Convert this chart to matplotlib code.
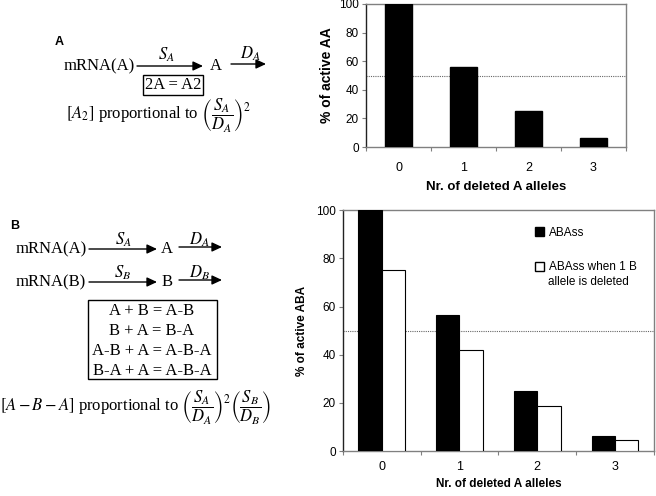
import numpy as np
import matplotlib
matplotlib.use('Agg')
import matplotlib.pyplot as plt
from matplotlib.patches import Rectangle, Patch

plt.rcParams['font.family'] = ['Liberation Sans', 'DejaVu Sans']
plt.rcParams['mathtext.fontset'] = 'stix'

# data
alleles = [0, 1, 2, 3]
aa_active = [100, 56, 25.5, 6.5]
aba_active = [100, 56.5, 25, 6.2]
aba_b_deleted = [75.3, 42.1, 18.6, 4.7]
threshold = 50

W, H = 656, 496
fig = plt.figure(figsize=(W / 100, H / 100), dpi=100)

# overlay in pixel coordinates for the reaction schemes
ov = fig.add_axes([0, 0, 1, 1])
ov.set_xlim(0, W)
ov.set_ylim(H, 0)
ov.axis('off')

serif = dict(family='Liberation Serif', fontsize=12, color='black')
arrow = dict(arrowstyle='-|>,head_length=0.6,head_width=0.28', color='black',
             lw=1, mutation_scale=10, shrinkA=0, shrinkB=0)


def arr(x0, x1, y):
    ov.annotate('', xy=(x1, y), xytext=(x0, y), arrowprops=arrow)


# panel A scheme
ov.text(55, 42, 'A', fontsize=9, fontweight='bold', va='center')
ov.text(64, 66, 'mRNA(A)', ha='left', va='center', **serif)
arr(137, 203, 66)
ov.text(166, 55, r'$S_A$', ha='center', va='center', **serif)
ov.text(216, 66, 'A', ha='center', va='center', **serif)
arr(231, 266, 64)
ov.text(250, 54, r'$D_A$', ha='center', va='center', **serif)
ov.text(173, 85, '2A = A2', ha='center', va='center', **serif,
        bbox=dict(boxstyle='square,pad=0.12', fc='white', ec='black', lw=1))
ov.text(66, 116, r'$\left[A_2\right]$ proportional to $\left(\dfrac{S_A}{D_A}\right)^2$',
        ha='left', va='center', **serif)

# panel B scheme
ov.text(10, 226, 'B', fontsize=9, fontweight='bold', va='center')
for y, src, s, d, prod in [(249, 'mRNA(A)', r'$S_A$', r'$D_A$', 'A'),
                           (282, 'mRNA(B)', r'$S_B$', r'$D_B$', 'B')]:
    ov.text(16, y, src, ha='left', va='center', **serif)
    arr(89, 157, y)
    ov.text(123, y - 9, s, ha='center', va='center', **serif)
    ov.text(167, y, prod, ha='center', va='center', **serif)
    arr(179, 222, y - 2)
    ov.text(199, y - 9, d, ha='center', va='center', **serif)

ov.add_patch(Rectangle((88, 300), 129, 79, fill=False, ec='black', lw=1))
reactions = ['A + B = A-B', 'B + A = B-A', 'A-B + A = A-B-A', 'B-A + A = A-B-A']
for i, r in enumerate(reactions):
    ov.text(152, 311 + 20 * i, r, ha='center', va='center', **serif)
ov.text(0, 408, r'$\left[A - B - A\right]$ proportional to '
        r'$\left(\dfrac{S_A}{D_A}\right)^2\left(\dfrac{S_B}{D_B}\right)$',
        ha='left', va='center', **serif)


def style(ax, fs_tick, pad_x):
    for s in ax.spines.values():
        s.set_color('#808080')
        s.set_linewidth(1)
    ax.spines['left'].set_color('#222222')
    ax.set_xlim(-0.5, 3.5)
    ax.set_ylim(0, 100)
    ax.set_yticks(np.arange(0, 101, 20))
    ax.set_xticks(np.arange(-0.5, 4, 1))
    ax.set_xticklabels([])
    ax.set_xticks(alleles, minor=True)
    ax.set_xticklabels([str(a) for a in alleles], minor=True)
    ax.tick_params(axis='x', which='major', direction='out', length=3, color='#808080')
    ax.tick_params(axis='x', which='minor', length=0, pad=pad_x, labelsize=fs_tick + 0.5)
    ax.tick_params(axis='y', direction='out', length=3, color='#808080',
                   labelsize=fs_tick, pad=2)
    ax.axhline(threshold, color='#666666', ls=(0, (1, 1)), lw=0.8, zorder=1)


# chart A
axA = fig.add_axes([366 / W, 1 - 147 / H, 260 / W, 143 / H])
axA.bar(alleles, aa_active, width=0.41, color='black', edgecolor='black', zorder=3)
style(axA, 8.5, 11)
axA.set_xlabel('Nr. of deleted A alleles', fontsize=9.5, fontweight='bold', labelpad=5)
axA.set_ylabel('% of active AA', fontsize=10, fontweight='bold', labelpad=4)

# chart B
axB = fig.add_axes([342.7 / W, 1 - 451 / H, 311.3 / W, 240.7 / H])
x = np.array(alleles)
axB.bar(x - 0.15, aba_active, width=0.3, color='black', edgecolor='black', lw=0.8, zorder=3)
axB.bar(x + 0.15, aba_b_deleted, width=0.3, color='white', edgecolor='black', lw=0.8, zorder=3)
style(axB, 8.5, 7)
axB.set_xlabel('Nr. of deleted A alleles', fontsize=8.5, fontweight='bold', labelpad=4)
axB.set_ylabel('% of active ABA', fontsize=8.5, fontweight='bold', labelpad=6)

handles = [Patch(fc='black', ec='black'), Patch(fc='white', ec='black')]
axB.legend(handles, ['ABAss', 'ABAss when 1 B'], loc='upper left',
           bbox_to_anchor=(530 / W, 1 - 222 / H), bbox_transform=fig.transFigure,
           frameon=False, fontsize=8.5, handlelength=0.8, handleheight=0.8,
           handletextpad=0.4, labelspacing=1.9, borderaxespad=0)
axB.text((548 - 342.7) / 311.3, (451 - 282) / 240.7, 'allele is deleted',
         transform=axB.transAxes, fontsize=8.5, ha='left', va='center')

fig.savefig('out.png', dpi=100)
